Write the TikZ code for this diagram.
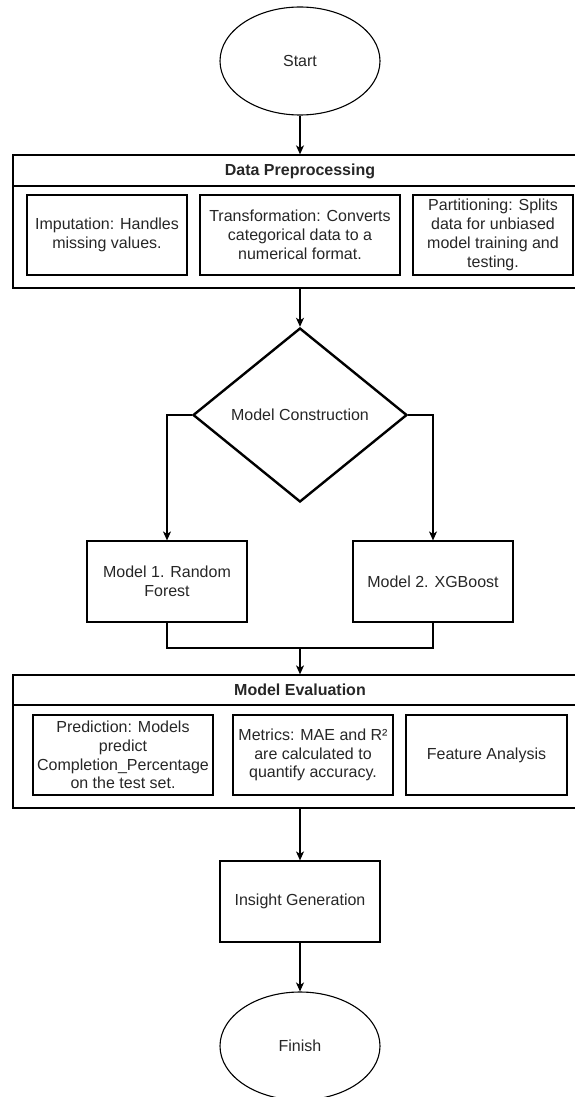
\documentclass[tikz,border=0pt]{standalone}
\usepackage{fontspec}
\setmainfont{Liberation Sans}
\usetikzlibrary{shapes.geometric,arrows.meta}
\definecolor{txt}{HTML}{262626}
\tikzset{
  every node/.style={font=\fontsize{16}{18.8}\selectfont, text=txt},
  term/.style={draw, line width=1.1pt, ellipse, minimum width=160pt, minimum height=108pt, inner sep=0pt},
  cont/.style={draw, line width=1.3pt, rectangle, minimum width=574pt, minimum height=133pt, inner sep=0pt},
  sub/.style={draw, line width=1.2pt, rectangle, align=center, inner sep=0pt},
  proc/.style={draw, line width=1.2pt, rectangle, align=center, minimum width=160pt, minimum height=81pt, inner sep=0pt},
  decis/.style={draw, line width=2.4pt, diamond, aspect=1.23, minimum width=214pt, minimum height=174pt, inner sep=0pt},
  hdr/.style={font=\fontsize{16}{18.8}\selectfont\bfseries},
  arr/.style={line width=1.2pt, -{Stealth[length=9pt,width=8pt,inset=2.5pt]}},
  ln/.style={line width=1.2pt}
}
\begin{document}
\begin{tikzpicture}[x=1pt,y=-1pt]
\useasboundingbox (0,0) rectangle (574,1097);
% Start
\node[term] (start) at (300,61) {Start};
% Data Preprocessing container
\node[cont] (dp) at (300,221.5) {};
\coordinate (dpl) at (13,186);
\coordinate (dpr) at (587,186);
\draw[line width=1.3pt] (dpl) -- (dpr);
\node[hdr] (dph) at (300,171) {Data Preprocessing};
\node[sub, minimum width=160pt, minimum height=80pt] (imp) at (107,235) {Imputation: Handles\\missing values.};
\node[sub, minimum width=200pt, minimum height=80pt] (trf) at (300,235) {Transformation: Converts\\categorical data to a\\numerical format.};
\node[sub, minimum width=160pt, minimum height=80pt] (part) at (493,235) {Partitioning: Splits\\data for unbiased\\model training and\\testing.};
% Model construction
\node[decis] (mc) at (300,415) {Model Construction};
\node[proc] (m1) at (167,581.5) {Model 1. Random\\Forest};
\node[proc] (m2) at (433,581.5) {Model 2. XGBoost};
\coordinate (mg) at (300,648);
% Model Evaluation container
\node[cont] (me) at (300,741.5) {};
\coordinate (mel) at (13,705);
\coordinate (mer) at (587,705);
\draw[line width=1.3pt] (mel) -- (mer);
\node[hdr] (meh) at (300,690) {Model Evaluation};
\node[sub, minimum width=180pt, minimum height=80pt] (pred) at (123,755) {Prediction: Models\\predict\\Completion\_Percentage\\on the test set.};
\node[sub, minimum width=160pt, minimum height=80pt] (met) at (313,755) {Metrics: MAE and R²\\are calculated to\\quantify accuracy.};
\node[sub, minimum width=161pt, minimum height=80pt] (feat) at (486.5,755) {Feature Analysis};
% Insight and Finish
\node[proc] (ins) at (300,901.5) {Insight Generation};
\node[term] (fin) at (300,1046) {Finish};
% connectors
\draw[arr] (start) -- (dp);
\draw[arr] (dp) -- (mc);
\draw[arr] (mc.west) -| (m1.north);
\draw[arr] (mc.east) -| (m2.north);
\draw[ln] (m1.south) |- (mg) -| (m2.south);
\draw[arr] (mg) -- (me.north);
\draw[arr] (me) -- (ins);
\draw[arr] (ins) -- (fin);
\end{tikzpicture}
\end{document}
